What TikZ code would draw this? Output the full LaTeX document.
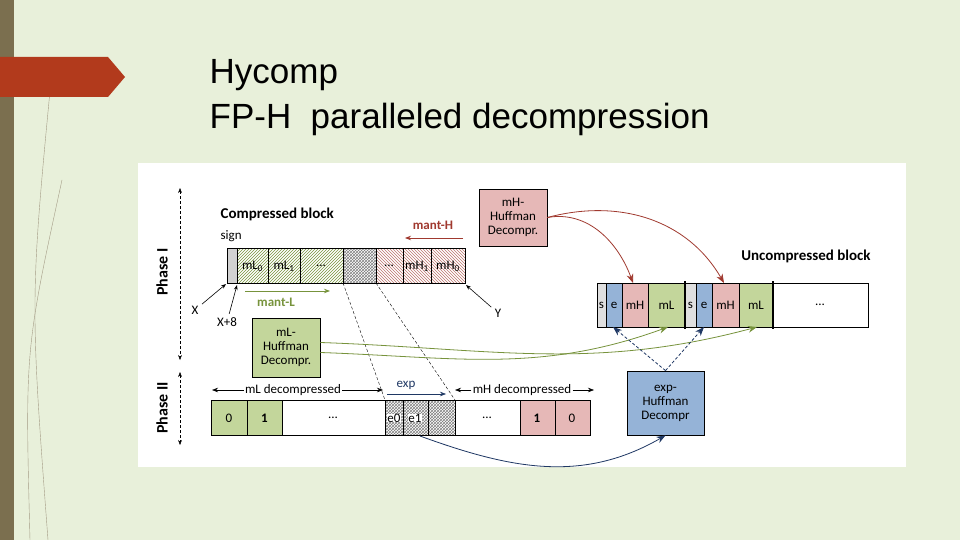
\documentclass[tikz,border=0pt]{standalone}
\usepackage{fontspec}
\setmainfont{Carlito}
\newfontfamily\titlefont{Liberation Sans}
\usetikzlibrary{patterns,arrows.meta}
\definecolor{bgreen}{HTML}{E8F0DA}
\definecolor{strip}{HTML}{7B6F4F}
\definecolor{tagred}{HTML}{B23A1C}
\definecolor{cgreen}{HTML}{C3D69B}
\definecolor{cred}{HTML}{E6B8B7}
\definecolor{cblue}{HTML}{95B3D7}
\definecolor{dred}{HTML}{A0392F}
\definecolor{dgreen}{HTML}{77933C}
\definecolor{dblue}{HTML}{1F3864}
\newcommand{\fs}{\fontsize{13}{14}\selectfont}
\tikzset{
  txt/.style={font=\fs},
  hbox/.style={draw, thick, align=center, inner sep=2pt, font=\fs, minimum width=68pt},
  lbl/.style={font=\fs\bfseries},
}
\begin{document}
\begin{tikzpicture}[x=1pt,y=-1pt, semithick]
    \useasboundingbox (0,0) rectangle (960,540);
    % Hintergrund
    \fill[bgreen] (0,0) rectangle (960,540);
    \fill[strip] (0,0) rectangle (14,540);
    \draw[strip!70, thin] (48,540) .. controls (30,300) .. (52,70);
    \draw[strip!70, thin] (30,540) .. controls (25,350) .. (62,180);
    \fill[tagred] (0,57) -- (108,57) -- (125,77) -- (108,97) -- (0,97) -- cycle;
    \node[font=\titlefont\fontsize{35}{38}\selectfont, anchor=west] (t1) at (206,75) {Hycomp};
    \node[font=\titlefont\fontsize{35}{38}\selectfont, anchor=west] (t2) at (206,119) {FP-H\ \ paralleled decompression};
    \fill[white] (138,163) rectangle (906,467);

    % Phasen
    \draw[thin, densely dashed, {Stealth[length=5pt]}-{Stealth[length=5pt]}] (180,188) -- (180,360);
    \node[rotate=90, font=\fontsize{16}{18}\selectfont\bfseries] (ph1) at (162,272) {Phase I};
    \draw[thin, densely dashed, {Stealth[length=5pt]}-{Stealth[length=5pt]}] (180,372) -- (180,445);
    \node[rotate=90, font=\fontsize{16}{18}\selectfont\bfseries] (ph2) at (162,408) {Phase II};

    % komprimierter Block
    \node[lbl, anchor=west, font=\fontsize{15}{16}\selectfont\bfseries] (cb) at (217,214) {Compressed block};
    \node[txt, anchor=west] (sg) at (217,236) {sign};
    \draw[fill=gray!35] (227,248) rectangle (237,283);
    \draw[pattern=north east lines, pattern color=dgreen] (237,248) rectangle (343,283);
    \draw[pattern=crosshatch, pattern color=gray] (343,248) rectangle (376,283);
    \draw[pattern=north west lines, pattern color=dred!70] (376,248) rectangle (465,283);
    \draw (268,248) -- (268,283) (300,248) -- (300,283) (403,248) -- (403,283) (431,248) -- (431,283);
    \node[txt] (l0) at (252.5,266) {mL\textsubscript{0}};
    \node[txt] (l1) at (284,266) {mL\textsubscript{1}};
    \node[txt] (ld) at (321,266) {...};
    \node[txt] (hd) at (389,266) {...};
    \node[txt] (h1) at (417,266) {mH\textsubscript{1}};
    \node[txt] (h0) at (448,266) {mH\textsubscript{0}};
    \coordinate (cx1) at (343,283);
    \coordinate (cx2) at (376,283);

    \coordinate (mhs) at (463,238);
    \coordinate (mhe) at (405,238);
    \draw[dred, thick, -{Stealth[length=6pt]}] (mhs) -- (mhe);
    \node[lbl, text=dred] (mh) at (433,225) {mant-H};
    \coordinate (mls) at (245,291);
    \coordinate (mle) at (330,291);
    \draw[dgreen, thick, -{Stealth[length=6pt]}] (mls) -- (mle);
    \node[lbl, text=dgreen] (ml) at (276,302) {mant-L};

    \node[txt] (x) at (195,310) {X};
    \node[txt] (x8) at (227,322) {X+8};
    \node[txt] (y) at (498,313) {Y};
    \coordinate (xp) at (226,284);
    \coordinate (x8p) at (237,285);
    \coordinate (yp) at (466,285);
    \draw[-{Stealth[length=5pt]}] (x) -- (xp);
    \draw[-{Stealth[length=5pt]}] (x8) -- (x8p);
    \draw[-{Stealth[length=5pt]}] (y) -- (yp);

    % Huffman-Boxen
    \node[hbox, fill=cred, minimum height=57pt] (mhh) at (513,217.5) {mH-\\Huffman\\Decompr.};
    \node[hbox, fill=cgreen, minimum height=59pt] (mlh) at (286,347.5) {mL-\\Huffman\\Decompr.};
    \node[hbox, fill=cblue, minimum width=77pt, minimum height=64pt] (exh) at (665.5,403) {exp-\\Huffman\\Decompr};

    % unkomprimierter Block
    \node[lbl, font=\fontsize{15}{16}\selectfont\bfseries] (ub) at (806,256) {Uncompressed block};
    \draw[fill=gray!25] (597,283) rectangle (606,327);
    \draw[fill=cblue] (606,283) rectangle (622,327);
    \draw[fill=cred] (622,283) rectangle (648,327);
    \draw[fill=cgreen] (648,283) rectangle (685,327);
    \draw[fill=gray!25] (685,283) rectangle (696,327);
    \draw[fill=cblue] (696,283) rectangle (712,327);
    \draw[fill=cred] (712,283) rectangle (739,327);
    \draw[fill=cgreen] (739,283) rectangle (773,327);
    \draw (773,283) rectangle (868,327);
    \draw[line width=2.5pt] (685,281) -- (685,329) (773,281) -- (773,329);
    \node[txt, inner sep=0pt] (s1) at (601.5,305) {s};
    \node[txt, inner sep=0pt] (e1) at (614,305) {e};
    \node[txt] (u1) at (635,305) {mH};
    \node[txt] (v1) at (666.5,305) {mL};
    \node[txt, inner sep=0pt] (s2) at (690.5,305) {s};
    \node[txt, inner sep=0pt] (e2) at (704,305) {e};
    \node[txt] (u2) at (725.5,305) {mH};
    \node[txt] (v2) at (756,305) {mL};
    \node[txt] (ud) at (820,305) {...};
    \coordinate (u1t) at (633,283);
    \coordinate (u2t) at (724,283);
    \coordinate (v1b) at (668,327);
    \coordinate (v2b) at (757,327);
    \coordinate (e1b) at (613,327);
    \coordinate (e2b) at (704,327);

    % Phase II Zeile
    \draw[fill=cgreen] (211,400) rectangle (282,435);
    \draw (247,400) -- (247,435);
    \draw (282,400) rectangle (385,435);
    \draw[pattern=crosshatch, pattern color=gray] (385,400) rectangle (455,435);
    \draw (403,400) -- (403,435) (428,400) -- (428,435);
    \draw (455,400) rectangle (520,435);
    \draw[fill=cred] (520,400) rectangle (590,435);
    \draw (555,400) -- (555,435);
    \node[txt] (p0) at (229,418) {0};
    \node[txt, font=\fs\bfseries] (p1) at (264.5,418) {1};
    \node[txt] (pd) at (333,418) {...};
    \node[txt, fill=white, inner sep=0pt] (pe0) at (394,418) {e0};
    \node[txt, fill=white, inner sep=0pt] (pe1) at (415,418) {e1};
    \node[txt] (qd) at (487,418) {...};
    \node[txt, font=\fs\bfseries] (q1) at (537,418) {1};
    \node[txt] (q0) at (572,418) {0};
    \coordinate (r1) at (385,400);
    \coordinate (r2) at (455,400);
    \coordinate (rb) at (420,436);
    \draw[thin, densely dashed] (cx1) -- (r1);
    \draw[thin, densely dashed] (cx2) -- (r2);

    \node[txt, fill=white, inner sep=1pt] (mld) at (293,390) {mL decompressed};
    \draw[-{Stealth[length=6pt]}] (mld) -- (212,390);
    \draw[-{Stealth[length=6pt]}] (mld) -- (383,390);
    \node[txt, fill=white, inner sep=1pt] (mhd) at (522,390) {mH decompressed};
    \draw[-{Stealth[length=6pt]}] (mhd) -- (455,390);
    \draw[-{Stealth[length=6pt]}] (mhd) -- (594,390);
    \node[txt, text=dblue] (ex) at (406,385) {exp};
    \coordinate (exs) at (387,394);
    \coordinate (exe) at (446,394);
    \draw[dblue, -{Stealth[length=6pt]}] (exs) -- (exe);

    % Verbindungen
    \draw[dred, thick, -{Stealth[length=9pt]}] (mhh.east) to[out=10, in=110] (u1t);
    \draw[dred, thick, -{Stealth[length=9pt]}] (mhh.east) to[out=15, in=120] (u2t);
    \draw[dgreen, thick, -{Stealth[length=9pt]}] ([yshift=-5pt]mlh.east) to[out=-2, in=-160] (v1b);
    \draw[dgreen, thick, -{Stealth[length=9pt]}] ([yshift=5pt]mlh.east) to[out=-2, in=-165] (v2b);
    \draw[dblue, thick, densely dashed, -{Stealth[length=9pt]}] (exh.north) -- (e1b);
    \draw[dblue, thick, densely dashed, -{Stealth[length=9pt]}] (exh.north) -- (e2b);
    \draw[dblue, thick, -{Stealth[length=9pt]}] (rb) to[out=-20, in=-150] (exh.south);
\end{tikzpicture}
\end{document}
